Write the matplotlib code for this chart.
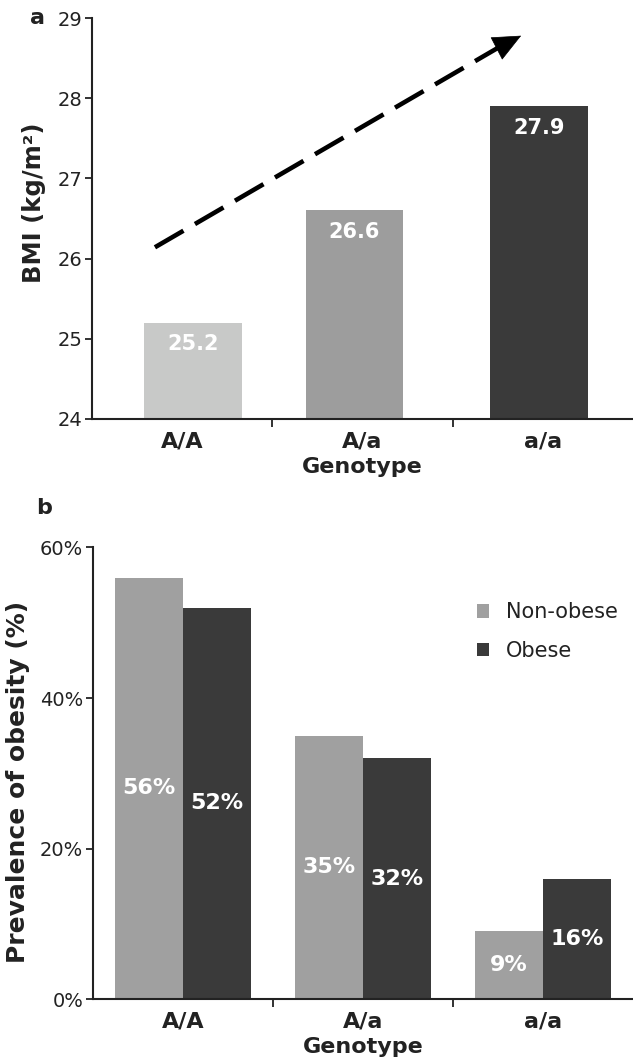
import matplotlib
matplotlib.use('Agg')
import matplotlib.pyplot as plt
import numpy as np

# ── data ──
genotypes = ['A/A', 'A/a', 'a/a']
bmi = [25.2, 26.6, 27.9]
bmi_colors = ['#c8c9c8', '#9d9d9d', '#3a3a3a']

non_obese = [56, 35, 9]
obese = [52, 32, 16]

# trend arrow (data coords): tail, head base, tip
arrow_tail = (-0.15, 26.14)
arrow_base = (1.76, 28.64)
arrow_tip = (1.88, 28.78)

TXT = '#222222'
plt.rcParams['font.family'] = 'DejaVu Sans'
plt.rcParams['text.color'] = TXT
plt.rcParams['axes.labelcolor'] = TXT
plt.rcParams['xtick.color'] = TXT
plt.rcParams['ytick.color'] = TXT

fig = plt.figure(figsize=(6.33, 10.63), dpi=100)


def style_axes(ax):
    for s in ['top', 'right']:
        ax.spines[s].set_visible(False)
    for s in ['left', 'bottom']:
        ax.spines[s].set_color(TXT)
        ax.spines[s].set_linewidth(1.5)
    ax.set_xlim(-0.5, 2.5)
    ax.set_xticks(range(3))
    ax.set_xticklabels(genotypes, fontweight='bold', fontsize=16)
    ax.set_xticks([0.5, 1.5], minor=True)
    ax.tick_params(axis='x', which='major', length=0, pad=9)
    ax.tick_params(axis='x', which='minor', length=6, width=1.3, direction='out')
    ax.tick_params(axis='y', length=5, width=1.3, labelsize=14, pad=2)
    ax.set_xlabel('Genotype', fontweight='bold', fontsize=16, labelpad=4)


# ── panel a: BMI by genotype ──
ax1 = fig.add_axes([0.145, 0.606, 0.855, 0.377])
x = np.arange(len(genotypes))
xa = x + np.array([0.06, -0.045, -0.02])   # bars sit slightly off the tick centres
ax1.bar(xa, [v - 24 for v in bmi], bottom=24, width=0.54, color=bmi_colors)
for xi, v in zip(xa, bmi):
    ax1.text(xi, v - 0.27, f'{v:.1f}', ha='center', va='center',
             color='white', fontweight='bold', fontsize=15)
ax1.set_ylim(24, 29)
ax1.set_yticks(range(24, 30))
style_axes(ax1)
ax1.set_ylabel('BMI (kg/m²)', fontweight='bold', fontsize=17.5)
ax1.yaxis.set_label_coords(-0.085, 0.54)

# dashed shaft + solid filled head
ax1.plot([arrow_tail[0], arrow_base[0]], [arrow_tail[1], arrow_base[1]],
         color='black', lw=3.3, linestyle=(0, (7.2, 2.9)),
         dash_capstyle='butt', clip_on=False)
ax1.annotate('', xy=arrow_tip, xytext=arrow_base,
             arrowprops=dict(arrowstyle='-|>,head_length=0.8,head_width=0.36',
                             color='black', lw=0.5, mutation_scale=24,
                             shrinkA=0, shrinkB=0))
fig.text(0.047, 0.983, 'a', fontweight='bold', fontsize=16, va='center', ha='left')

# ── panel b: prevalence of obesity ──
ax2 = fig.add_axes([0.147, 0.060, 0.853, 0.425])
w = 0.38
ax2.bar(x - w / 2, non_obese, width=w, color='#a0a0a0', label='Non-obese')
ax2.bar(x + w / 2, obese, width=w, color='#3a3a3a', label='Obese')
for xi, v in zip(x - w / 2, non_obese):
    ax2.text(xi, v / 2, f'{v}%', ha='center', va='center',
             color='white', fontweight='bold', fontsize=16)
for xi, v in zip(x + w / 2, obese):
    ax2.text(xi, v / 2, f'{v}%', ha='center', va='center',
             color='white', fontweight='bold', fontsize=16)
ax2.set_ylim(0, 60)
ax2.set_yticks([0, 20, 40, 60])
ax2.set_yticklabels(['0%', '20%', '40%', '60%'])
style_axes(ax2)
ax2.set_ylabel('Prevalence of obesity (%)', fontweight='bold', fontsize=18)
ax2.yaxis.set_label_coords(-0.117, 0.48)
ax2.legend(loc='upper left', bbox_to_anchor=(0.676, 0.92), frameon=False,
           fontsize=15, handlelength=0.6, handleheight=0.6, handletextpad=0.8,
           labelspacing=0.9)
fig.text(0.057, 0.522, 'b', fontweight='bold', fontsize=16, va='center', ha='left')

fig.savefig('out.png', dpi=100)
